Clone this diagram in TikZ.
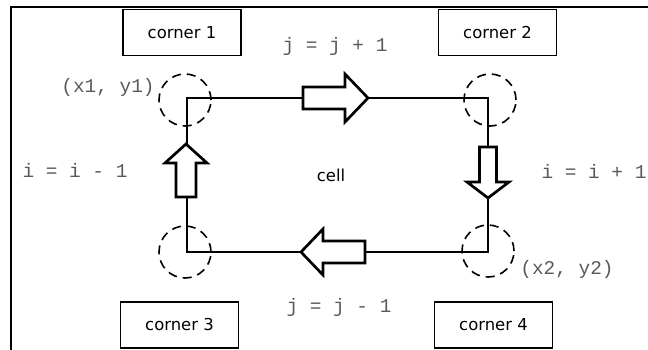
\documentclass[tikz,border=0pt]{standalone}
\usepackage{fontspec}
\setmainfont{DejaVu Sans}
\newfontfamily\monof{Liberation Mono}
\begin{document}
\begin{tikzpicture}[x=1bp,y=-1bp,
  cornerbox/.style={draw, line width=1.2bp, minimum width=118bp, minimum height=46bp, inner sep=0pt, font=\fontsize{16.5}{19}\selectfont},
  monolabel/.style={text=black!65, font=\monof\fontsize{19.5}{22}\selectfont, inner sep=0pt},
  ring/.style={circle, draw, dash pattern=on 9bp off 6bp, line width=1.6bp, minimum size=52bp, inner sep=0pt},
  blockarrow/.style={draw, fill=white, line width=2.7bp, line join=miter},
  celledge/.style={line width=1.6bp}]
\useasboundingbox (0,0) rectangle (648,349);
% frame
\coordinate (fbl) at (11,352);
\coordinate (ftl) at (11,7);
\coordinate (ftr) at (650,7);
\draw[line width=2bp] (fbl) -- (ftl) -- (ftr);
% corner boxes
\node[cornerbox] (k1) at (182,32.5) {corner 1};
\node[cornerbox] (k2) at (497.5,32.5) {corner 2};
\node[cornerbox] (k3) at (179.5,325) {corner 3};
\node[cornerbox] (k4) at (493.5,325) {corner 4};
% cell
\coordinate (p1) at (187,98);
\coordinate (p2) at (488,98);
\coordinate (p4) at (488,252);
\coordinate (p3) at (187,252);
\draw[celledge] (p1) -- (p2) -- (p4) -- (p3) -- cycle;
% rings
\node[ring] (r1) at (185,100) {};
\node[ring] (r2) at (490,100) {};
\node[ring] (r3) at (185,252) {};
\node[ring] (r4) at (488,251) {};
% block arrows
\draw[blockarrow] (303,87) -- (345,87) -- (345,74) -- (368,98) -- (345,122) -- (345,109) -- (303,109) -- cycle;
\draw[blockarrow] (479.5,147) -- (496.5,147) -- (496.5,182) -- (509,182) -- (488,198) -- (467,182) -- (479.5,182) -- cycle;
\draw[blockarrow] (176,197) -- (196,197) -- (196,163) -- (207,163) -- (186,144) -- (165,163) -- (176,163) -- cycle;
\draw[blockarrow] (365,241) -- (323,241) -- (323,229) -- (301,252) -- (323,275) -- (323,263) -- (365,263) -- cycle;
% labels
\node[monolabel] (jp) at (335,46) {j = j + 1};
\node[monolabel] (jm) at (339,307) {j = j - 1};
\node[monolabel] (im) at (75,170) {i = i - 1};
\node[monolabel] (ip) at (594,171) {i = i + 1};
\node[monolabel] (xy1) at (108,87) {(x1, y1)};
\node[monolabel] (xy2) at (567,269) {(x2, y2)};
\node[font=\fontsize{16.5}{19}\selectfont, inner sep=0pt] (cell) at (331,175) {cell};
\end{tikzpicture}
\end{document}
